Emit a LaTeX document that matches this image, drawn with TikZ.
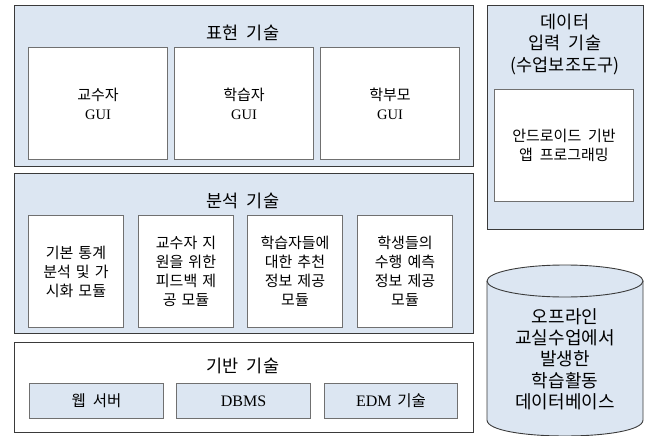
\documentclass[tikz,border=0pt]{standalone}
\usepackage{fontspec}
\setmainfont{Liberation Serif}
\newfontfamily\kr[WordSpace=2.0]{Noto Sans CJK KR}
\definecolor{panelblue}{HTML}{DCE6F2}
\definecolor{edgegray}{HTML}{3A3A3A}
\definecolor{boxgray}{HTML}{707070}
\begin{document}
\begin{tikzpicture}[x=1pt,y=-1pt,
  panel/.style={draw=edgegray,line width=0.9pt,fill=panelblue},
  wpanel/.style={draw=edgegray,line width=0.9pt,fill=white},
  inbox/.style={draw=boxgray,line width=1pt,fill=white,align=center,inner sep=2pt,
     font=\kr\fontsize{15}{19}\selectfont},
  bluebox/.style={draw=boxgray,line width=1pt,fill=panelblue,align=center,
     font=\fontsize{16}{19}\selectfont},
  title/.style={font=\kr\fontsize{17.5}{21.5}\selectfont,align=center}]
\useasboundingbox (0,0) rectangle (656,436);
% panels
\node[panel,minimum width=459,minimum height=161,anchor=north west] (p1) at (14,5) {};
\node[panel,minimum width=459,minimum height=160,anchor=north west] (p2) at (14,173) {};
\node[wpanel,minimum width=459,minimum height=90,anchor=north west] (p3) at (14,342) {};
\node[panel,minimum width=156,minimum height=224,anchor=north west] (p4) at (487,5) {};
% titles
\node[title] (t1) at (243,33) {표현 기술};
\node[title] (t2) at (243,201) {분석 기술};
\node[title] (t3) at (243,366) {기반 기술};
\node[title] (t4) at (565,44) {데이터\\입력 기술\\(수업보조도구)};
% top boxes
\node[inbox,minimum width=139,minimum height=112,anchor=north west] (g1) at (28,47) {교수자\\\rmfamily\fontsize{14.5}{18}\selectfont GUI};
\node[inbox,minimum width=139,minimum height=112,anchor=north west] (g2) at (174,47) {학습자\\\rmfamily\fontsize{14.5}{18}\selectfont GUI};
\node[inbox,minimum width=139,minimum height=112,anchor=north west] (g3) at (320,47) {학부모\\\rmfamily\fontsize{14.5}{18}\selectfont GUI};
% right inner box
\node[inbox,minimum width=139,minimum height=112,anchor=north west] (a1) at (494,89) {안드로이드 기반\\앱 프로그래밍};
% analysis boxes
\node[inbox,text width=90,minimum width=95,minimum height=112,anchor=north west] (m1) at (28,215) {기본 통계\\분석 및 가\\시화 모듈};
\node[inbox,text width=90,minimum width=95,minimum height=112,anchor=north west] (m2) at (138,215) {교수자 지\\원을 위한\\피드백 제\\공 모듈};
\node[inbox,text width=90,minimum width=95,minimum height=112,anchor=north west] (m3) at (247,215) {학습자들에\\대한 추천\\정보 제공\\모듈};
\node[inbox,text width=90,minimum width=95,minimum height=112,anchor=north west] (m4) at (357,215) {학생들의\\수행 예측\\정보 제공\\모듈};
% base boxes
\node[bluebox,minimum width=134,minimum height=35,anchor=north west] (b1) at (29,383) {\kr\fontsize{15.5}{19}\selectfont 웹 서버};
\node[bluebox,minimum width=134,minimum height=35,anchor=north west] (b2) at (176,383) {DBMS};
\node[bluebox,minimum width=133,minimum height=35,anchor=north west] (b3) at (324,383) {EDM\hspace{0.35em}{\kr\fontsize{15.5}{19}\selectfont 기술}};
% cylinder
\fill[panelblue] (487,281) -- (487,420) .. controls (487,441.33) and (643,441.33) .. (643,420) -- (643,281) -- cycle;
\fill[panelblue] (565,281) ellipse [x radius=78, y radius=16];
\draw[draw=edgegray,line width=0.9pt] (487,281) -- (487,420) .. controls (487,441.33) and (643,441.33) .. (643,420) -- (643,281);
\draw[draw=edgegray,line width=0.9pt] (565,281) ellipse [x radius=78, y radius=16];
\node[title,font=\kr\fontsize{18}{21.3}\selectfont] (db) at (565,359) {오프라인\\교실수업에서\\발생한\\학습활동\\데이터베이스};
\end{tikzpicture}
\end{document}
